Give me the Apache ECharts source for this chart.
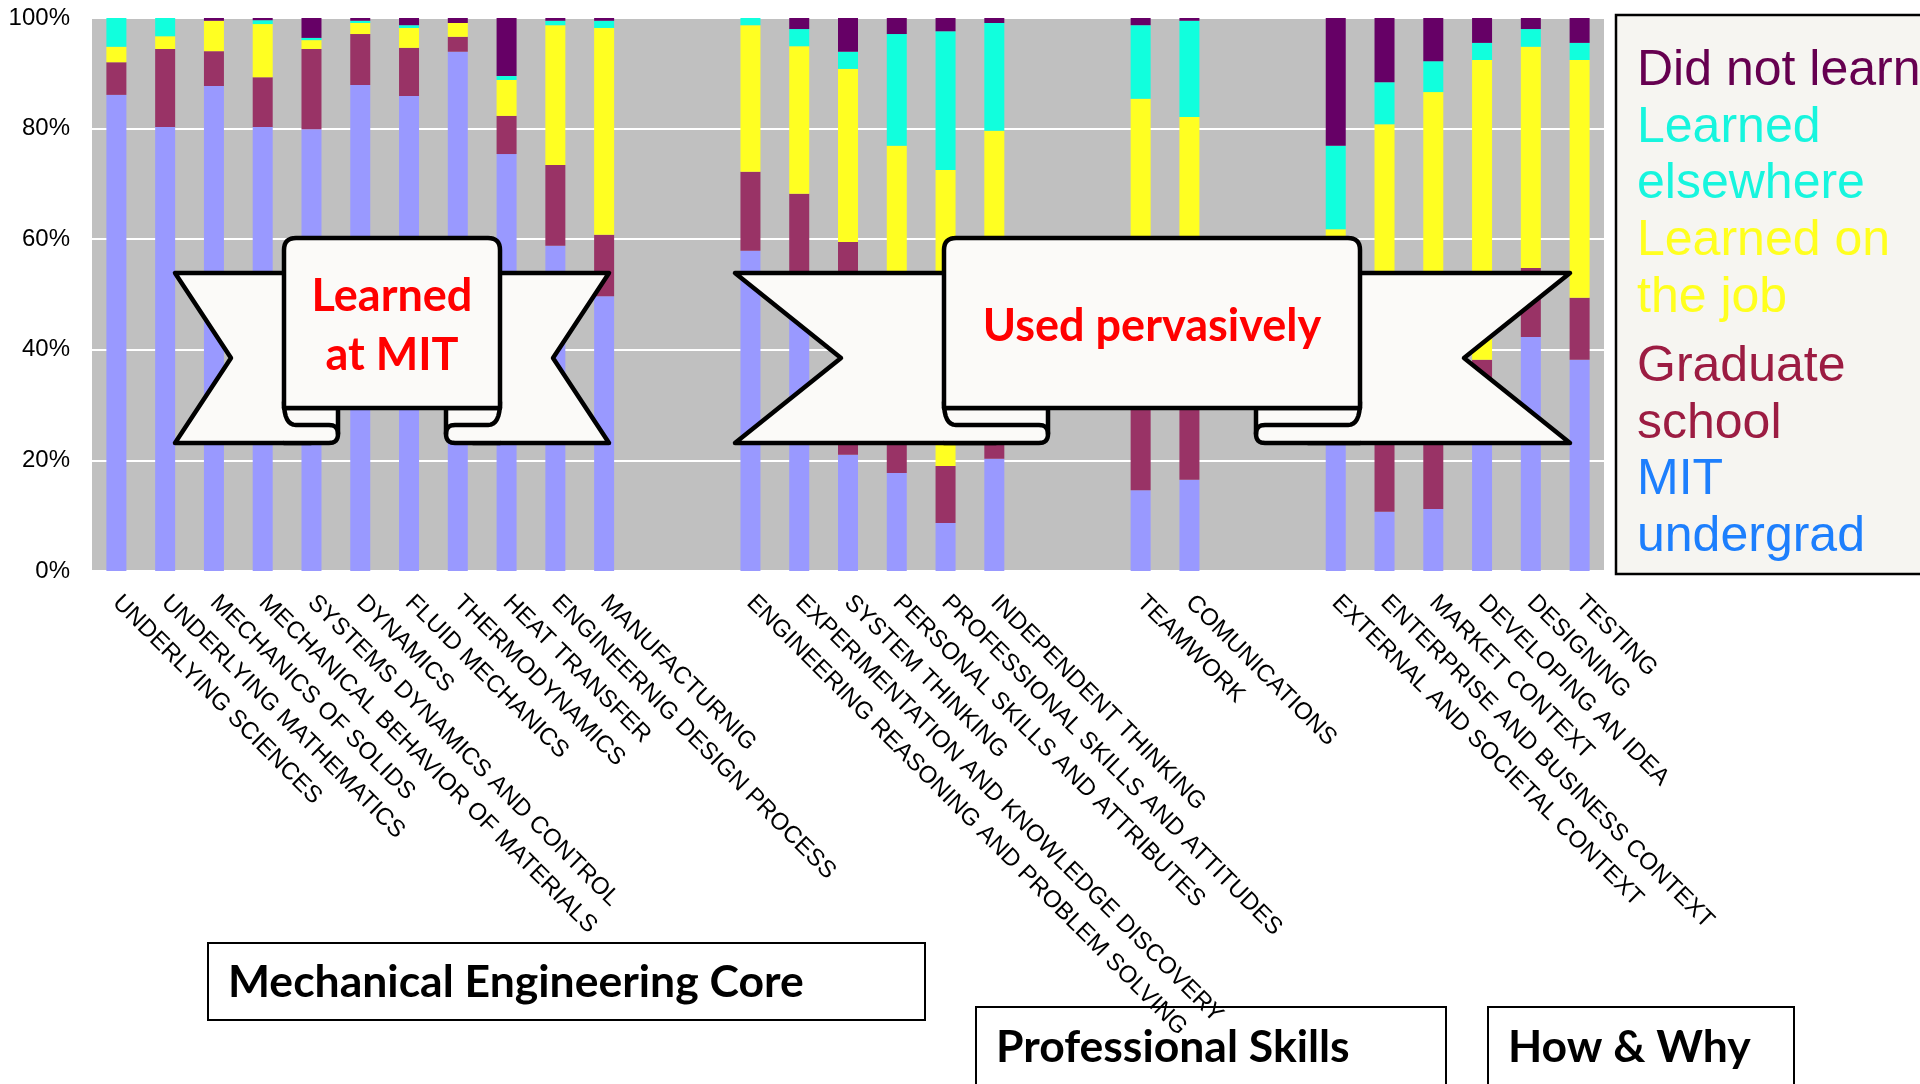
<!DOCTYPE html>
<html>
<head>
<meta charset="utf-8">
<script src="https://cdn.jsdelivr.net/npm/echarts@6/dist/echarts.min.js"></script>
<style>
  html, body { margin: 0; padding: 0; background: #fff; }
  #chart { width: 1920px; height: 1084px; }
</style>
</head>
<body>
<div id="chart"></div>
<script>
// categories, '' = empty slot between groups
var categories = [
    'UNDERLYING SCIENCES', 'UNDERLYING MATHEMATICS', 'MECHANICS OF SOLIDS',
    'MECHANICAL BEHAVIOR OF MATERIALS', 'SYSTEMS DYNAMICS AND CONTROL', 'DYNAMICS',
    'FLUID MECHANICS', 'THERMODYNAMICS', 'HEAT TRANSFER', 'ENGINEERNIG DESIGN PROCESS',
    'MANUFACTURNIG', '', '',
    'ENGINEERING REASONING AND PROBLEM SOLVING', 'EXPERIMENTATION AND KNOWLEDGE DISCOVERY',
    'SYSTEM THINKING', 'PERSONAL SKILLS AND ATTRIBUTES', 'PROFESSIONAL SKILLS AND ATTITUDES',
    'INDEPENDENT THINKING', '', '',
    'TEAMWORK', 'COMUNICATIONS', '', '',
    'EXTERNAL AND SOCIETAL CONTEXT', 'ENTERPRISE AND BUSINESS CONTEXT', 'MARKET CONTEXT',
    'DEVELOPING AN IDEA', 'DESIGNING', 'TESTING'
];

// percentages, stacked bottom to top
var mitUndergrad = [86.1, 80.3, 87.7, 80.3, 79.9, 87.9, 85.9, 93.9, 75.4, 58.8, 49.7, null, null,
    57.9, 50, 21, 17.7, 8.7, 20.3, null, null, 14.6, 16.5, null, null,
    35, 10.7, 11.2, 31, 42.3, 38.2];
var gradSchool = [5.9, 14.1, 6.3, 9.0, 14.5, 9.2, 8.7, 2.7, 6.9, 14.6, 11.1, null, null,
    14.3, 18.2, 38.5, 20, 10.3, 10, null, null, 20, 20, null, null,
    15, 20, 22, 7.2, 12.5, 11.2];
var learnedOnJob = [2.8, 2.3, 5.5, 9.6, 1.6, 2.0, 3.6, 2.5, 6.5, 25.3, 37.4, null, null,
    26.5, 26.7, 31.3, 39.2, 53.5, 49.3, null, null, 50.8, 45.6, null, null,
    11.8, 50.1, 53.4, 54.2, 40.0, 43.0];
var learnedElsewhere = [5.2, 3.3, 0, 0.7, 0.4, 0.4, 0.5, 0, 0.7, 0.8, 1.3, null, null,
    1.3, 3.1, 3.1, 20.2, 25.1, 19.5, null, null, 13.3, 17.4, null, null,
    15.1, 7.6, 5.6, 3.1, 3.2, 3.1];
var didNotLearn = [0, 0, 0.5, 0.4, 3.6, 0.5, 1.3, 0.9, 10.5, 0.5, 0.5, null, null,
    0, 2, 6.1, 2.9, 2.4, 0.9, null, null, 1.3, 0.5, null, null,
    23.1, 11.6, 7.8, 4.5, 2.0, 4.5];

var yTicks = [0, 20, 40, 60, 80, 100];

// legend text, top to bottom
var legendNames = ['Did not learn', 'Learned elsewhere', 'Learned on the job', 'Graduate school', 'MIT undergrad'];
var legendLines = [['Did not learn'], ['Learned', 'elsewhere'], ['Learned on', 'the job'], ['Graduate', 'school'], ['MIT', 'undergrad']];
var groupNames = ['Mechanical Engineering Core', 'Professional Skills', 'How & Why'];
var ribbonTexts = [['Learned', 'at MIT'], ['Used pervasively']];

var chart = echarts.init(document.getElementById('chart'));

var barColors = {
    'MIT undergrad': '#9999ff',
    'Graduate school': '#993366',
    'Learned on the job': '#ffff22',
    'Learned elsewhere': '#11ffdd',
    'Did not learn': '#660066'
};
var textColors = {
    'Did not learn': '#660050',
    'Learned elsewhere': '#17f5de',
    'Learned on the job': '#ffff1f',
    'Graduate school': '#9c1c42',
    'MIT undergrad': '#1d7ffd'
};

function barSeries(name, data) {
    return {
        name: name,
        type: 'bar',
        stack: 'all',
        barWidth: 20,
        data: data,
        itemStyle: { color: barColors[name] }
    };
}

// points along a quadratic curve (graphic has no path type)
function curve(p0, c, p1) {
    var pts = [];
    for (var i = 1; i <= 8; i++) {
        var t = i / 8, u = 1 - t;
        pts.push([u * u * p0[0] + 2 * u * t * c[0] + t * t * p1[0], u * u * p0[1] + 2 * u * t * c[1] + t * t * p1[1]]);
    }
    return pts;
}

// ribbon banner
function ribbon(r) {
    var els = [];
    var st = { fill: '#fbfaf8', stroke: '#000', lineWidth: 4.5, lineJoin: 'round' };
    var line = { fill: null, stroke: '#000', lineWidth: 4.5, lineJoin: 'round', lineCap: 'round' };
    var mid = (r.tailTop + r.bottom) / 2;
    var ym = r.pb + 17, rad = (r.bottom - ym) / 2, yc = ym + rad;
    var fl = r.pL + r.fold, fr = r.pR - r.fold;
    // tails
    els.push({ type: 'polygon', z: 100, shape: { points: [[r.x0, r.tailTop], [r.pL + r.fold / 2, r.tailTop], [r.pL + r.fold / 2, r.bottom], [r.x0, r.bottom], [r.x0 + r.notch, mid]] }, style: st });
    els.push({ type: 'polygon', z: 100, shape: { points: [[r.x1, r.tailTop], [r.pR - r.fold / 2, r.tailTop], [r.pR - r.fold / 2, r.bottom], [r.x1, r.bottom], [r.x1 - r.notch, mid]] }, style: st });
    // folds under the panel
    [[r.pL, fl, -1], [r.pR, fr, 1]].forEach(function (f) {
        var a = f[0], b = f[1], s = f[2];
        var outline = [[a, r.pb], [b, r.pb], [b, yc]].concat(curve([b, yc], [b, r.bottom], [b + s * rad, r.bottom])).concat([[a, r.bottom]]);
        els.push({ type: 'polygon', z: 101, shape: { points: outline }, style: { fill: '#fbfaf8' } });
        els.push({ type: 'polyline', z: 102, shape: { points: outline }, style: line });
        var curl = [[a, r.pb - 6]].concat(curve([a, r.pb - 6], [a, ym], [a - s * 12, ym])).concat([[b + s * rad, ym]]).concat(curve([b + s * rad, ym], [b, ym], [b, yc]));
        els.push({ type: 'polyline', z: 102, shape: { points: curl }, style: line });
    });
    // front panel
    var c = 12;
    var panel = [[r.pL, r.pb], [r.pL, r.top + c]].concat(curve([r.pL, r.top + c], [r.pL, r.top], [r.pL + c, r.top]))
        .concat([[r.pR - c, r.top]]).concat(curve([r.pR - c, r.top], [r.pR, r.top], [r.pR, r.top + c])).concat([[r.pR, r.pb]]);
    els.push({ type: 'polygon', z: 103, shape: { points: panel }, style: st });
    r.lines.forEach(function (t, i) {
        els.push({
            type: 'text', z: 104, x: (r.pL + r.pR) / 2, y: r.textY[i],
            style: { text: t, fill: '#ff0000', font: 'bold 45px Lato, "Open Sans", sans-serif', align: 'center', verticalAlign: 'middle' }
        });
    });
    return els;
}

var graphics = [];
graphics = graphics.concat(ribbon({ x0: 175, x1: 609, notch: 56, pL: 284, pR: 500, fold: 54, top: 238, tailTop: 273, pb: 408, bottom: 443, lines: ribbonTexts[0], textY: [296, 355] }));
graphics = graphics.concat(ribbon({ x0: 735, x1: 1570, notch: 106, pL: 944, pR: 1360, fold: 104, top: 238, tailTop: 273, pb: 408, bottom: 443, lines: ribbonTexts[1], textY: [326] }));

// legend box
graphics.push({ type: 'rect', z: 90, shape: { x: 1616, y: 15, width: 330, height: 559 }, style: { fill: '#f6f5f1', stroke: '#000', lineWidth: 2.5 } });
var ly = 71.5;
legendLines.forEach(function (lines, i) {
    if (i === 3) ly += 13;
    lines.forEach(function (t) {
        graphics.push({
            type: 'text', z: 91, x: 1637, y: ly,
            style: { text: t, fill: textColors[legendNames[i]], font: '50px "Liberation Sans", Arial, sans-serif', verticalAlign: 'middle' }
        });
        ly += 56.6;
    });
});

// group boxes below the labels (no fill, the long axis labels run into them)
var groupBoxes = [
    { x: 208, y: 943, w: 717, h: 77, ty: 983 },
    { x: 976, y: 1007, w: 470, h: 100, ty: 1048 },
    { x: 1488, y: 1007, w: 306, h: 100, ty: 1048 }
];
groupBoxes.forEach(function (b, i) {
    graphics.push({ type: 'rect', z: 90, shape: { x: b.x, y: b.y, width: b.w, height: b.h }, style: { fill: 'transparent', stroke: '#000', lineWidth: 2 } });
    graphics.push({
        type: 'text', z: 91, x: b.x + 20, y: b.ty,
        style: { text: groupNames[i], fill: '#000', font: 'bold 44.5px Lato, "Open Sans", sans-serif', verticalAlign: 'middle' }
    });
});

chart.setOption({
    animation: false,
    grid: {
        left: 92, right: 316, top: 18, bottom: 513,
        show: true, backgroundColor: '#c0c0c0', borderWidth: 0,
        outerBoundsMode: 'none'
    },
    xAxis: {
        type: 'category',
        data: categories,
        axisLine: { show: false },
        axisTick: { show: false },
        axisLabel: {
            interval: 0, rotate: -45, margin: 28,
            color: '#000', fontSize: 24, fontFamily: '"Liberation Sans", Arial, sans-serif'
        }
    },
    yAxis: {
        type: 'value',
        min: yTicks[0], max: yTicks[yTicks.length - 1], interval: 20,
        axisLine: { show: false },
        axisTick: { show: false },
        splitLine: { lineStyle: { color: '#ffffff', width: 2 } },
        axisLabel: {
            formatter: '{value}%', margin: 22,
            color: '#000', fontSize: 24, fontFamily: '"Liberation Sans", Arial, sans-serif'
        }
    },
    series: [
        barSeries('MIT undergrad', mitUndergrad),
        barSeries('Graduate school', gradSchool),
        barSeries('Learned on the job', learnedOnJob),
        barSeries('Learned elsewhere', learnedElsewhere),
        barSeries('Did not learn', didNotLearn)
    ],
    graphic: { elements: graphics }
});
</script>
</body>
</html>
